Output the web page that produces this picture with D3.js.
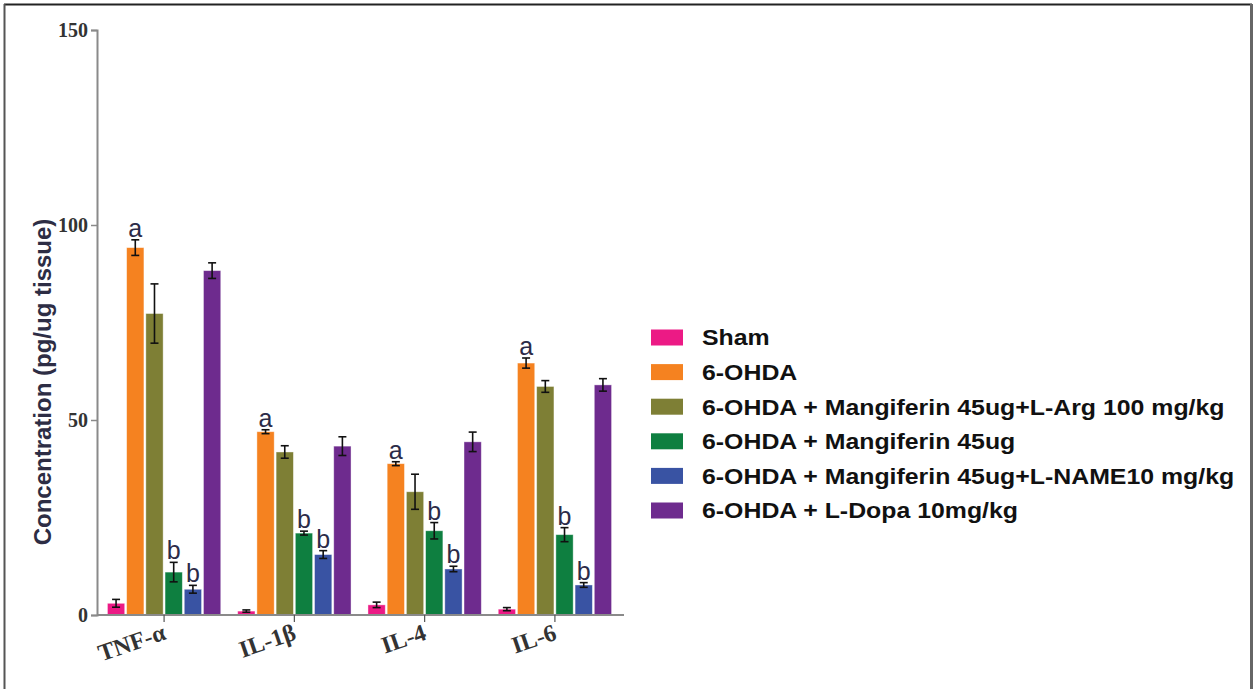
<!DOCTYPE html>
<html>
<head>
<meta charset="utf-8">
<script src="https://cdn.jsdelivr.net/npm/d3@7"></script>
<style>
  body { margin: 0; background: #fff; }
  svg { display: block; }
</style>
</head>
<body>
<svg id="chart" width="1254" height="689"></svg>
<script>
var cytokines = ['TNF-\u03b1', 'IL-1\u03b2', 'IL-4', 'IL-6']
var groups = ['Sham', '6-OHDA', '6-OHDA + Mangiferin 45ug+L-Arg 100 mg/kg',
              '6-OHDA + Mangiferin 45ug', '6-OHDA + Mangiferin 45ug+L-NAME10 mg/kg',
              '6-OHDA + L-Dopa 10mg/kg']
var colors = ['#ec1a85', '#f58220', '#7e7f35', '#0e7f40', '#3953a3', '#6e2b8e']

// means per cytokine, one entry per group
var means = [
  [3.0, 94.2, 77.3, 11.0, 6.6, 88.3],
  [1.0, 47.0, 41.8, 21.0, 15.5, 43.3],
  [2.6, 38.8, 31.6, 21.6, 11.8, 44.4],
  [1.5, 64.6, 58.6, 20.6, 7.7, 59.0]
]
var errors = [
  [1.0, 2.0, 7.6, 2.5, 1.0, 2.0],
  [0.3, 0.5, 1.6, 0.5, 1.0, 2.4],
  [0.7, 0.5, 4.5, 2.1, 0.7, 2.5],
  [0.4, 1.3, 1.5, 1.8, 0.6, 1.6]
]
var letters = [
  ['', 'a', '', 'b', 'b', ''],
  ['', 'a', '', 'b', 'b', ''],
  ['', 'a', '', 'b', 'b', ''],
  ['', 'a', '', 'b', 'b', '']
]
var yTicks = [0, 50, 100, 150]

var svg = d3.select('#chart')

// outer frame
svg.append('line').attr('x1', 4).attr('x2', 1252).attr('y1', 4.5).attr('y2', 4.5)
  .attr('stroke', '#222').attr('stroke-width', 2)
svg.append('line').attr('x1', 4.5).attr('x2', 4.5).attr('y1', 4).attr('y2', 689)
  .attr('stroke', '#555').attr('stroke-width', 2)
svg.append('line').attr('x1', 1251.5).attr('x2', 1251.5).attr('y1', 4).attr('y2', 689)
  .attr('stroke', '#666').attr('stroke-width', 3)

var y = d3.scaleLinear().domain([0, 150]).range([615, 30])
var x0 = d3.scaleBand().domain(cytokines).range([97, 622]).paddingInner(0.13).paddingOuter(0.08)
var x1 = d3.scaleBand().domain(d3.range(groups.length)).range([0, x0.bandwidth()]).paddingInner(0.1)

var rows = []
cytokines.forEach(function (c, ci) {
  groups.forEach(function (g, gi) {
    rows.push({ c: c, g: gi, v: means[ci][gi], e: errors[ci][gi], l: letters[ci][gi] })
  })
})

var bars = svg.append('g')
bars.selectAll('rect').data(rows).join('rect')
  .attr('x', function (d) { return x0(d.c) + x1(d.g) })
  .attr('width', x1.bandwidth())
  .attr('y', function (d) { return y(d.v) })
  .attr('height', function (d) { return y(0) - y(d.v) })
  .attr('fill', function (d) { return colors[d.g] })
  .attr('stroke', 'rgba(255,255,255,0.5)')
  .attr('stroke-width', 0.8)

var err = svg.append('g').attr('stroke', '#111').attr('stroke-width', 1.6)
rows.forEach(function (d) {
  var cx = x0(d.c) + x1(d.g) + x1.bandwidth() / 2
  err.append('line').attr('x1', cx).attr('x2', cx).attr('y1', y(d.v + d.e)).attr('y2', y(d.v - d.e))
  err.append('line').attr('x1', cx - 4).attr('x2', cx + 4).attr('y1', y(d.v + d.e)).attr('y2', y(d.v + d.e))
  err.append('line').attr('x1', cx - 4).attr('x2', cx + 4).attr('y1', y(d.v - d.e)).attr('y2', y(d.v - d.e))
})

svg.append('g').selectAll('text').data(rows.filter(function (d) { return d.l })).join('text')
  .attr('x', function (d) { return x0(d.c) + x1(d.g) + x1.bandwidth() / 2 })
  .attr('y', function (d) { return y(d.v + d.e) - 3 })
  .attr('text-anchor', 'middle')
  .attr('font-family', 'Liberation Sans, Arial, sans-serif')
  .attr('font-size', 25)
  .attr('fill', '#2b2b48')
  .text(function (d) { return d.l })

// axes
var yAxis = svg.append('g').attr('transform', 'translate(97,0)')
  .call(d3.axisLeft(y).tickValues(yTicks).tickSize(6).tickPadding(3))
yAxis.select('.domain').attr('stroke', '#8a8a8a').attr('stroke-width', 2)
yAxis.selectAll('.tick line').attr('stroke', '#8a8a8a').attr('stroke-width', 1.5)
yAxis.selectAll('text').attr('font-family', 'Liberation Serif, Times New Roman, serif')
  .attr('font-weight', 'bold').attr('font-size', 20).attr('fill', '#333')

var xAxis = svg.append('g').attr('transform', 'translate(0,615)')
  .call(d3.axisBottom(x0).tickSize(7).tickSizeOuter(0))
xAxis.select('.domain').attr('stroke', '#8a8a8a').attr('stroke-width', 2).attr('d', 'M97,0H624')
xAxis.selectAll('.tick line').attr('stroke', '#555').attr('stroke-width', 1.2)
xAxis.selectAll('text')
  .attr('font-family', 'Liberation Serif, Times New Roman, serif')
  .attr('font-weight', 'bold').attr('font-size', 24).attr('fill', '#333')
  .attr('text-anchor', 'end').attr('x', 0).attr('y', 0).attr('dy', 0)
  .attr('transform', 'translate(3,24) rotate(-19)')

svg.append('text')
  .attr('transform', 'translate(51,382) rotate(-90)')
  .attr('text-anchor', 'middle')
  .attr('font-family', 'Liberation Sans, Arial, sans-serif')
  .attr('font-weight', 'bold').attr('font-size', 24).attr('fill', '#2d2d44')
  .text('Concentration (pg/ug tissue)')

// legend
var legend = svg.append('g').attr('transform', 'translate(651,337.5)')
var item = legend.selectAll('g').data(groups).join('g')
  .attr('transform', function (d, i) { return 'translate(0,' + i * 34.6 + ')' })
item.append('rect').attr('x', 0).attr('y', -8).attr('width', 32).attr('height', 16)
  .attr('fill', function (d, i) { return colors[i] })
item.append('text').attr('transform', 'translate(51,0) scale(1.13,1)').attr('dy', '0.36em')
  .attr('font-family', 'Liberation Sans, Arial, sans-serif')
  .attr('font-weight', 'bold').attr('font-size', 22).attr('fill', '#111')
  .text(function (d) { return d })
</script>
</body>
</html>
